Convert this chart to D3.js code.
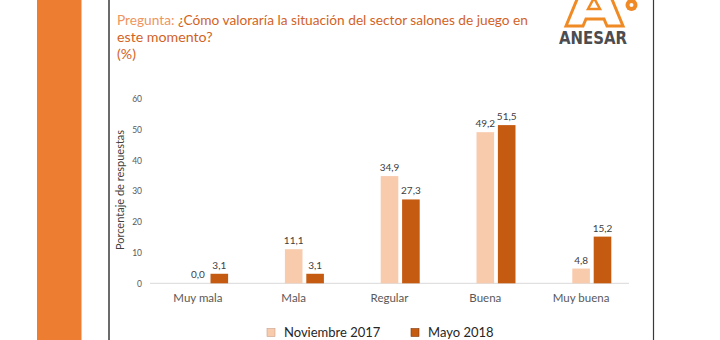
<!DOCTYPE html>
<html><head><meta charset="utf-8">
<script src="https://cdn.jsdelivr.net/npm/d3@7"></script>
<style>html,body{margin:0;padding:0;background:#fff;overflow:hidden}</style>
</head><body>
<svg id="c" width="720" height="340"></svg>
<script>
const categories = ["Muy mala", "Mala", "Regular", "Buena", "Muy buena"];
const seriesNames = ["Noviembre 2017", "Mayo 2018"];
const nov2017 = [0.0, 11.1, 34.9, 49.2, 4.8];
const mayo2018 = [3.1, 3.1, 27.3, 51.5, 15.2];
const yTicks = [0, 10, 20, 30, 40, 50, 60];
const colors = ["#F8CBAD", "#C55A11"];

const svg = d3.select("#c");
const font = "Lato, 'Open Sans', sans-serif";

// decoration
svg.append("rect").attr("x", 37).attr("y", 0).attr("width", 44.5).attr("height", 340).attr("fill", "#ED7D31");
svg.append("line").attr("x1", 109).attr("x2", 109).attr("y1", 0).attr("y2", 340).attr("stroke", "#3a3a3a").attr("stroke-width", 1.5);
svg.append("line").attr("x1", 653.5).attr("x2", 653.5).attr("y1", 0).attr("y2", 340).attr("stroke", "#3a3a3a").attr("stroke-width", 1.2);

// logo
const logo = svg.append("g");
logo.append("path")
  .attr("d", "M566,26 L578,-3 L611,-3 L623,26 L607,26 L604,19 L586,19 L583,26 Z")
  .attr("fill", "#fff").attr("stroke", "#F08A24").attr("stroke-width", 3).attr("stroke-linejoin", "miter");
logo.append("path").attr("d", "M588,9 L594,-2 L600,9 Z")
  .attr("fill", "#fff").attr("stroke", "#F08A24").attr("stroke-width", 2.5);
logo.append("circle").attr("cx", 631.5).attr("cy", 5).attr("r", 6).attr("fill", "#F08A24");
logo.append("circle").attr("cx", 631.5).attr("cy", 5).attr("r", 2).attr("fill", "#fff");
logo.append("text").attr("x", 559).attr("y", 43.5).attr("textLength", 68).attr("lengthAdjust", "spacingAndGlyphs")
  .attr("font-family", "'DejaVu Sans Condensed', 'DejaVu Sans', sans-serif").attr("font-weight", "bold")
  .attr("font-size", 17.5).attr("fill", "#4D4D4F").text("ANESAR");

// title
const title = svg.append("g").attr("font-family", font).attr("font-size", 14.2);
const t1 = title.append("text").attr("x", 117).attr("y", 25).attr("textLength", 411).attr("lengthAdjust", "spacingAndGlyphs");
t1.append("tspan").attr("fill", "#EE9560").text("Pregunta: ");
t1.append("tspan").attr("fill", "#D2631F").text("¿Cómo valoraría la situación del sector salones de juego en");
title.append("text").attr("x", 117).attr("y", 42).attr("fill", "#D2631F").text("este momento?");
title.append("text").attr("x", 117).attr("y", 59).attr("fill", "#D2631F").text("(%)");

// scales
const x = d3.scaleBand().domain(categories).range([150, 629]);
const y = d3.scaleLinear().domain([0, 60]).range([283.3, 99]);
const barW = 17.6, gap = 3.8;

// y axis ticks
const yAxis = d3.axisLeft(y).tickValues(yTicks).tickSize(0).tickPadding(0);
const ya = svg.append("g").attr("transform", "translate(142,0)").call(yAxis);
ya.select(".domain").remove();
ya.selectAll("text").attr("font-family", font).attr("font-size", 8.5).attr("fill", "#595959");

// baseline
svg.append("line").attr("x1", x.range()[0]).attr("x2", x.range()[1]).attr("y1", y(0)).attr("y2", y(0))
  .attr("stroke", "#D9D9D9").attr("stroke-width", 1);

// x axis labels
const xAxis = d3.axisBottom(x).tickSize(0).tickPadding(0);
const xa = svg.append("g").attr("transform", `translate(0,${y(0)+11})`).call(xAxis);
xa.select(".domain").remove();
xa.selectAll("text").attr("font-family", font).attr("font-size", 11.5).attr("fill", "#595959");

// y title
svg.append("text").attr("transform", "translate(124,190) rotate(-90)").attr("text-anchor", "middle")
  .attr("font-family", font).attr("font-size", 11).attr("fill", "#404040").text("Porcentaje de respuestas");

// bars
const series = [nov2017, mayo2018];
series.forEach((vals, si) => {
  const g = svg.append("g");
  categories.forEach((c, i) => {
    const cx = x(c) + x.bandwidth() / 2;
    const bx = cx - barW / 2 + si * (barW + gap);
    const v = vals[i];
    g.append("rect").attr("x", bx).attr("y", y(v)).attr("width", barW).attr("height", y(0) - y(v))
      .attr("fill", colors[si]);
    g.append("text").attr("x", bx + barW / 2).attr("y", y(v) - 5).attr("text-anchor", "middle")
      .attr("font-family", font).attr("font-size", 10).attr("fill", "#404040")
      .text(v.toFixed(1).replace(".", ","));
  });
});

// legend
const legX = [267, 411];
seriesNames.forEach((n, i) => {
  svg.append("rect").attr("x", legX[i]).attr("y", 328.5).attr("width", 8).attr("height", 8)
    .attr("fill", colors[i]).attr("stroke", i === 0 ? "#C9A08A" : "#7F3A0B").attr("stroke-width", 0.6);
  svg.append("text").attr("x", legX[i] + 17).attr("y", 337).attr("font-family", font).attr("font-size", 13)
    .attr("fill", "#262626").text(n);
});
</script>
</body></html>
